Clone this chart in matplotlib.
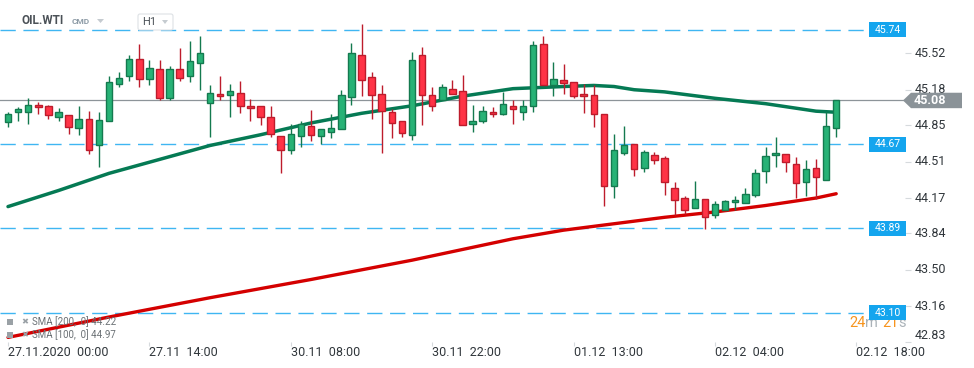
import matplotlib
matplotlib.use("Agg")
import matplotlib.pyplot as plt
from matplotlib.transforms import Affine2D, blended_transform_factory
from matplotlib.patches import Rectangle, Polygon, FancyBboxPatch

plt.rcParams['font.family'] = ['Roboto', 'DejaVu Sans']

# ---------------- data ----------------
opens = [44.88, 44.97, 44.97, 45.04, 45.03, 44.93, 44.94, 44.82, 44.91, 44.66,
         44.89, 45.23, 45.31, 45.47, 45.28, 45.37, 45.10, 45.37, 45.31, 45.43,
         45.06, 45.14, 45.13, 45.15, 45.03, 45.03, 44.93, 44.75, 44.62, 44.75,
         44.84, 44.75, 44.79, 44.81, 45.11, 45.50, 45.30, 45.14, 44.97, 44.89,
         44.76, 45.50, 45.13, 45.08, 45.19, 45.17, 44.86, 44.89, 44.97, 44.95,
         45.03, 44.97, 45.03, 45.61, 45.22, 45.27, 45.25, 45.14, 45.13, 44.95,
         44.28, 44.59, 44.67, 44.45, 44.57, 44.54, 44.26, 44.17, 44.08, 44.16,
         44.01, 44.06, 44.13, 44.12, 44.20, 44.42, 44.57, 44.58, 44.49, 44.32,
         44.45, 44.34, 44.82]
highs = [44.97, 45.02, 45.10, 45.07, 45.04, 45.01, 44.94, 45.03, 44.98, 44.97,
         45.31, 45.35, 45.50, 45.61, 45.46, 45.46, 45.40, 45.57, 45.63, 45.68,
         45.22, 45.31, 45.23, 45.26, 45.09, 45.03, 45.03, 44.75, 44.86, 44.89,
         44.99, 44.81, 44.95, 45.18, 45.62, 45.79, 45.35, 45.22, 45.00, 44.89,
         45.53, 45.58, 45.21, 45.23, 45.27, 45.32, 45.04, 45.03, 45.02, 45.16,
         45.08, 45.08, 45.63, 45.68, 45.44, 45.42, 45.25, 45.23, 45.22, 44.95,
         44.77, 44.84, 44.67, 44.62, 44.60, 44.56, 44.32, 44.19, 44.33, 44.16,
         44.14, 44.15, 44.19, 44.26, 44.44, 44.65, 44.74, 44.58, 44.55, 44.52,
         44.53, 44.97, 45.08]
lows = [44.83, 44.89, 44.86, 44.95, 44.91, 44.89, 44.77, 44.76, 44.58, 44.46,
        44.89, 45.21, 45.26, 45.21, 45.22, 45.08, 45.08, 45.26, 45.25, 45.18,
        44.74, 45.08, 44.93, 44.96, 44.89, 44.85, 44.74, 44.40, 44.58, 44.65,
        44.70, 44.67, 44.73, 44.81, 45.04, 45.12, 44.91, 44.59, 44.73, 44.74,
        44.71, 44.85, 44.98, 45.08, 45.14, 44.85, 44.79, 44.87, 44.93, 44.94,
        44.86, 44.90, 44.97, 45.22, 45.12, 45.14, 45.10, 44.96, 44.83, 44.10,
        44.17, 44.57, 44.38, 44.41, 44.49, 44.20, 44.01, 44.02, 44.08, 43.88,
        43.98, 44.06, 44.06, 44.12, 44.18, 44.31, 44.46, 44.41, 44.17, 44.19,
        44.16, 44.34, 44.74]
closes = [44.95, 45.00, 45.04, 45.02, 44.94, 44.97, 44.83, 44.91, 44.62, 44.90,
          45.25, 45.29, 45.47, 45.28, 45.38, 45.10, 45.37, 45.29, 45.45, 45.52,
          45.15, 45.12, 45.17, 45.03, 45.01, 44.93, 44.77, 44.62, 44.77, 44.86,
          44.76, 44.81, 44.82, 45.13, 45.52, 45.27, 45.13, 44.98, 44.87, 44.78,
          45.46, 45.13, 45.03, 45.21, 45.14, 44.85, 44.89, 44.98, 44.95, 45.05,
          45.00, 45.03, 45.60, 45.22, 45.28, 45.24, 45.12, 45.12, 44.95, 44.28,
          44.62, 44.66, 44.44, 44.60, 44.52, 44.32, 44.15, 44.06, 44.16, 43.99,
          44.11, 44.14, 44.15, 44.21, 44.40, 44.56, 44.59, 44.51, 44.31, 44.44,
          44.37, 44.84, 45.08]

sma100_idx = [0, 5, 10, 15, 20, 25, 30, 35, 40, 45, 50, 55, 58, 60, 62, 65, 70, 75, 80, 82]
sma100 = [44.09, 44.24, 44.40, 44.53, 44.66, 44.76, 44.87, 44.96, 45.03, 45.12,
          45.19, 45.21, 45.22, 45.21, 45.18, 45.16, 45.10, 45.05, 44.98, 44.97]
sma200_idx = [0, 10, 20, 30, 40, 50, 55, 60, 65, 70, 75, 80, 82]
sma200 = [42.87, 43.06, 43.24, 43.41, 43.59, 43.79, 43.87, 43.93, 43.99, 44.04,
          44.10, 44.17, 44.21]

level_values = [45.74, 44.67, 43.89, 43.10]
level_labels = ["45.74", "44.67", "43.89", "43.10"]
last_price = 45.08
last_label = "45.08"

y_tick_values = [42.83, 43.16, 43.50, 43.84, 44.17, 44.51, 44.85, 45.18, 45.52]
y_tick_labels = ["42.83", "43.16", "43.50", "43.84", "44.17", "44.51", "44.85", "45.18", "45.52"]
x_tick_idx = [0, 14, 28, 42, 56, 70, 84]
x_tick_labels = ["27.11.2020  00:00", "27.11  14:00", "30.11  08:00", "30.11  22:00",
                 "01.12  13:00", "02.12  04:00", "02.12  18:00"]

symbol = "OIL.WTI"
legend_lines = ["SMA [200,  0] 44.22", "SMA [100,  0] 44.97"]

# ---------------- layout ----------------
W, H = 974, 368
fig = plt.figure(figsize=(W / 100, H / 100), dpi=100)
fig.patch.set_facecolor('white')
pix = Affine2D().scale(1 / W, -1 / H).translate(0, 1) + fig.transFigure

ax = fig.add_axes([0, 1 - 342 / H, 905 / W, 342 / H])
ax.set_facecolor('white')
for s in ax.spines.values():
    s.set_visible(False)
step = 10.1
ax.set_xlim(-8 / step, (905 - 8) / step)
ax.set_ylim(42.827, 46.017)

bt = blended_transform_factory(pix, ax.transData)      # x in pixels, y in price
bx = blended_transform_factory(ax.transData, pix)      # x in index, y in pixels

# ticks
ax.yaxis.tick_right()
ax.set_yticks(y_tick_values)
ax.set_xticks(x_tick_idx)
ax.tick_params(axis='y', length=4.3, width=0.8, color='#d6dadd', labelright=False, labelleft=False)
ax.tick_params(axis='x', length=3, width=0.8, color='#d6dadd', labelbottom=False)

# y labels
for v, lab in zip(y_tick_values, y_tick_labels):
    if v == y_tick_values[0]:
        ax.text(915, v, lab, transform=bt, ha='left', va='bottom', fontsize=9, color='#30363b', clip_on=False)
    else:
        ax.text(915, v, lab, transform=bt, ha='left', va='center', fontsize=9, color='#30363b', clip_on=False)
# x labels
for i, lab in zip(x_tick_idx, x_tick_labels):
    ax.text(i, 352, lab, transform=bx, ha='left', va='center', fontsize=9, color='#30363b', clip_on=False)

# horizontal levels
for v in level_values:
    ax.axhline(v, xmin=0, xmax=865 / 905, color='#3fb6f2', lw=1.0, dashes=(11, 5.5), zorder=1)
ax.axhline(last_price, xmin=0, xmax=1.0, color='#8d9499', lw=0.9, zorder=1)

# SMA lines
ax.plot(sma200_idx, sma200, color='#d40000', lw=2.4, zorder=2, solid_capstyle='round')
ax.plot(sma100_idx, sma100, color='#057a54', lw=2.5, zorder=2, solid_capstyle='round')

# candles
up_fill, up_edge = '#27b276', '#147a4f'
dn_fill, dn_edge = '#ff3346', '#bd1c2c'
for i, (o, h, l, c) in enumerate(zip(opens, highs, lows, closes)):
    up = c >= o
    edge = up_edge if up else dn_edge
    fill = up_fill if up else dn_fill
    ax.vlines(i, l, h, color=edge, lw=1.0, zorder=3)
    lo = min(o, c)
    hgt = max(abs(c - o), 0.012)
    ax.add_patch(Rectangle((i - 0.32, lo), 0.64, hgt, facecolor=fill, edgecolor=edge, lw=1.0, zorder=4))

# timer text
ax.text(849, 323, "24", transform=pix, fontsize=10.5, color='#f7941d', va='center', ha='left', zorder=5, clip_on=False)
ax.text(865, 323, "m", transform=pix, fontsize=10.5, color='#aab2b8', va='center', ha='left', zorder=5, clip_on=False)
ax.text(882, 323, "21", transform=pix, fontsize=10.5, color='#f7941d', va='center', ha='left', zorder=5, clip_on=False)
ax.text(898, 323, "s", transform=pix, fontsize=10.5, color='#aab2b8', va='center', ha='left', zorder=5, clip_on=False)

# level label boxes
for v, lab in zip(level_values, level_labels):
    ax.add_patch(Rectangle((869, v - 0.07), 37, 0.14, transform=bt, facecolor='#14a5ee',
                           edgecolor='none', zorder=6, clip_on=False))
    ax.text(887.5, v, lab, transform=bt, ha='center', va='center', fontsize=7.5,
            color='white', zorder=7, clip_on=False)

# last price arrow label
ax.add_patch(Polygon([(903, last_price), (911, last_price + 0.072), (962, last_price + 0.072),
                      (962, last_price - 0.072), (911, last_price - 0.072)], closed=True,
                     transform=bt, facecolor='#8b9398', edgecolor='none', zorder=6, clip_on=False))
ax.text(914, last_price, last_label, transform=bt, ha='left', va='center', fontsize=9,
        fontweight='bold', color='white', zorder=7, clip_on=False)

# header
fig.text(21, 21, symbol, transform=pix, fontsize=8.5, fontweight='bold', color='#4b5157', va='center', ha='left')
fig.text(72, 22, "CMD", transform=pix, fontsize=6, fontweight='bold', color='#8d9ba6', va='center', ha='left')
fig.add_artist(Polygon([(97, 19), (104, 19), (100.5, 23)], closed=True, transform=pix,
                       facecolor='#c5cbd0', edgecolor='none'))
fig.add_artist(FancyBboxPatch((138, 14), 35, 16, boxstyle='round,pad=0,rounding_size=2', transform=pix,
                              facecolor='white', edgecolor='#dde1e5', lw=0.8))
fig.text(142, 22, "H1", transform=pix, fontsize=8, color='#4b5157', va='center', ha='left')
fig.add_artist(Polygon([(162, 20), (168, 20), (165, 24)], closed=True, transform=pix,
                       facecolor='#c5cbd0', edgecolor='none'))

# legend
for k, (txt, yy) in enumerate(zip(legend_lines, [322, 335])):
    fig.add_artist(Rectangle((7, yy - 3.5), 6, 6, transform=pix, facecolor='#9aa1a6', edgecolor='none', zorder=8))
    fig.text(21, yy, "\u2716", transform=pix, fontsize=6, color='#9aa1a6', va='center', ha='left',
             family=['DejaVu Sans'], zorder=8)
    fig.text(32, yy, txt, transform=pix, fontsize=7, color='#6b7175', va='center', ha='left', zorder=8)

fig.savefig("out.png", dpi=100, facecolor='white')
